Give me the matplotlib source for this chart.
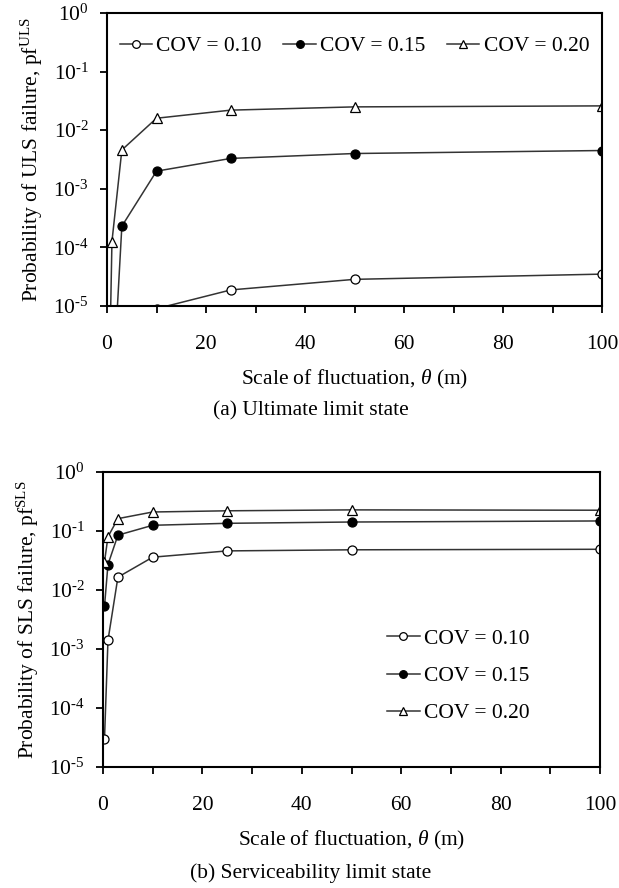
import math
import matplotlib
matplotlib.use("Agg")
import matplotlib.pyplot as plt
from matplotlib.ticker import FixedLocator, FuncFormatter, MultipleLocator

plt.rcParams['font.family'] = ['Liberation Serif', 'DejaVu Serif']
plt.rcParams['mathtext.fontset'] = 'custom'
plt.rcParams['mathtext.rm'] = 'Liberation Serif'
plt.rcParams['mathtext.it'] = 'Liberation Serif:italic'
plt.rcParams['mathtext.bf'] = 'Liberation Serif:bold'

# ---- data ----
theta = [0.3, 1, 3, 10, 25, 50, 100]
labels = ["COV = 0.10", "COV = 0.15", "COV = 0.20"]

uls_cov10 = [1e-8, 1e-8, 1e-7, 9.0e-6, 1.88e-5, 2.85e-5, 3.5e-5]
uls_cov15 = [1e-8, 2e-7, 2.3e-4, 2.0e-3, 3.3e-3, 4.0e-3, 4.5e-3]
uls_cov20 = [1e-7, 1.26e-4, 4.6e-3, 1.6e-2, 2.2e-2, 2.5e-2, 2.6e-2]

sls_cov10 = [3.0e-5, 1.4e-3, 1.65e-2, 3.6e-2, 4.6e-2, 4.8e-2, 4.9e-2]
sls_cov15 = [5.3e-3, 2.7e-2, 8.5e-2, 0.125, 0.135, 0.142, 0.148]
sls_cov20 = [3.0e-2, 8.0e-2, 0.162, 0.21, 0.22, 0.228, 0.225]

xticks = [0, 20, 40, 60, 80, 100]
yticks = [1e-5, 1e-4, 1e-3, 1e-2, 1e-1, 1e0]

FS = 15.5

W, H = 619, 888
fig = plt.figure(figsize=(W / 100, H / 100), dpi=100)

def px_axes(l, t, r, b):
    return fig.add_axes([l / W, 1 - b / H, (r - l) / W, (b - t) / H])

ax1 = px_axes(107, 13, 602, 306)
ax2 = px_axes(103, 472, 600, 767)

styles = [
    dict(marker='o', mfc='white', mec='black'),
    dict(marker='o', mfc='black', mec='black'),
    dict(marker='^', mfc='white', mec='black'),
]

def logfmt(v, pos):
    e = int(round(math.log10(v)))
    return r'$\mathregular{10^{%s}}$' % (('\u2010%d' % -e) if e < 0 else '0')

def setup(ax, ylabel, xlabel):
    ax.set_yscale('log')
    ax.set_xlim(0, 100)
    ax.set_ylim(1e-5, 1)
    ax.yaxis.set_major_locator(FixedLocator(yticks))
    ax.yaxis.set_minor_locator(FixedLocator([]))
    ax.yaxis.set_major_formatter(FuncFormatter(logfmt))
    ax.xaxis.set_major_locator(FixedLocator(xticks))
    ax.xaxis.set_minor_locator(MultipleLocator(10))
    for s in ax.spines.values():
        s.set_linewidth(1.5)
    ax.tick_params(axis='both', which='both', direction='out', width=1.3,
                   top=False, right=False, labelsize=FS)
    ax.tick_params(axis='x', which='major', length=5, pad=16)
    ax.tick_params(axis='x', which='minor', length=5)
    ax.tick_params(axis='y', which='major', length=5, pad=8)
    ax.set_ylabel(ylabel, fontsize=FS, labelpad=6)
    ax.set_xlabel(xlabel, fontsize=FS, labelpad=10)

series_top = [uls_cov10, uls_cov15, uls_cov20]
series_bot = [sls_cov10, sls_cov15, sls_cov20]

for ax, series in [(ax1, series_top), (ax2, series_bot)]:
    for ys, lab, st in zip(series, labels, styles):
        ax.plot(theta, ys, color='#333333', lw=1.1, ms=6.5, mew=0.9,
                label=lab, **st)

setup(ax1, r'Probability of ULS failure, p$\mathregular{f}^{\mathregular{ULS}}$',
      r'Scale of fluctuation, $\it{\theta}$ (m)')
setup(ax2, r'Probability of SLS failure, p$\mathregular{f}^{\mathregular{SLS}}$',
      r'Scale of fluctuation, $\it{\theta}$ (m)')

ax1.legend(loc='center', bbox_to_anchor=(0.5, 0.887), ncol=3, frameon=False,
           fontsize=FS, handlelength=1.5, handletextpad=0.2, columnspacing=1.0,
           markerscale=0.85, borderaxespad=0.2)
ax2.legend(loc='center left', bbox_to_anchor=(0.533, 0.308), ncol=1, frameon=False,
           fontsize=FS, handlelength=1.5, handletextpad=0.2, labelspacing=0.8,
           markerscale=0.85)

fig.text(311 / W, 1 - 411 / H, '(a) Ultimate limit state', ha='center', va='center', fontsize=FS)
fig.text(311 / W, 1 - 873 / H, '(b) Serviceability limit state', ha='center', va='center', fontsize=FS)

fig.savefig('out.png', dpi=100)
